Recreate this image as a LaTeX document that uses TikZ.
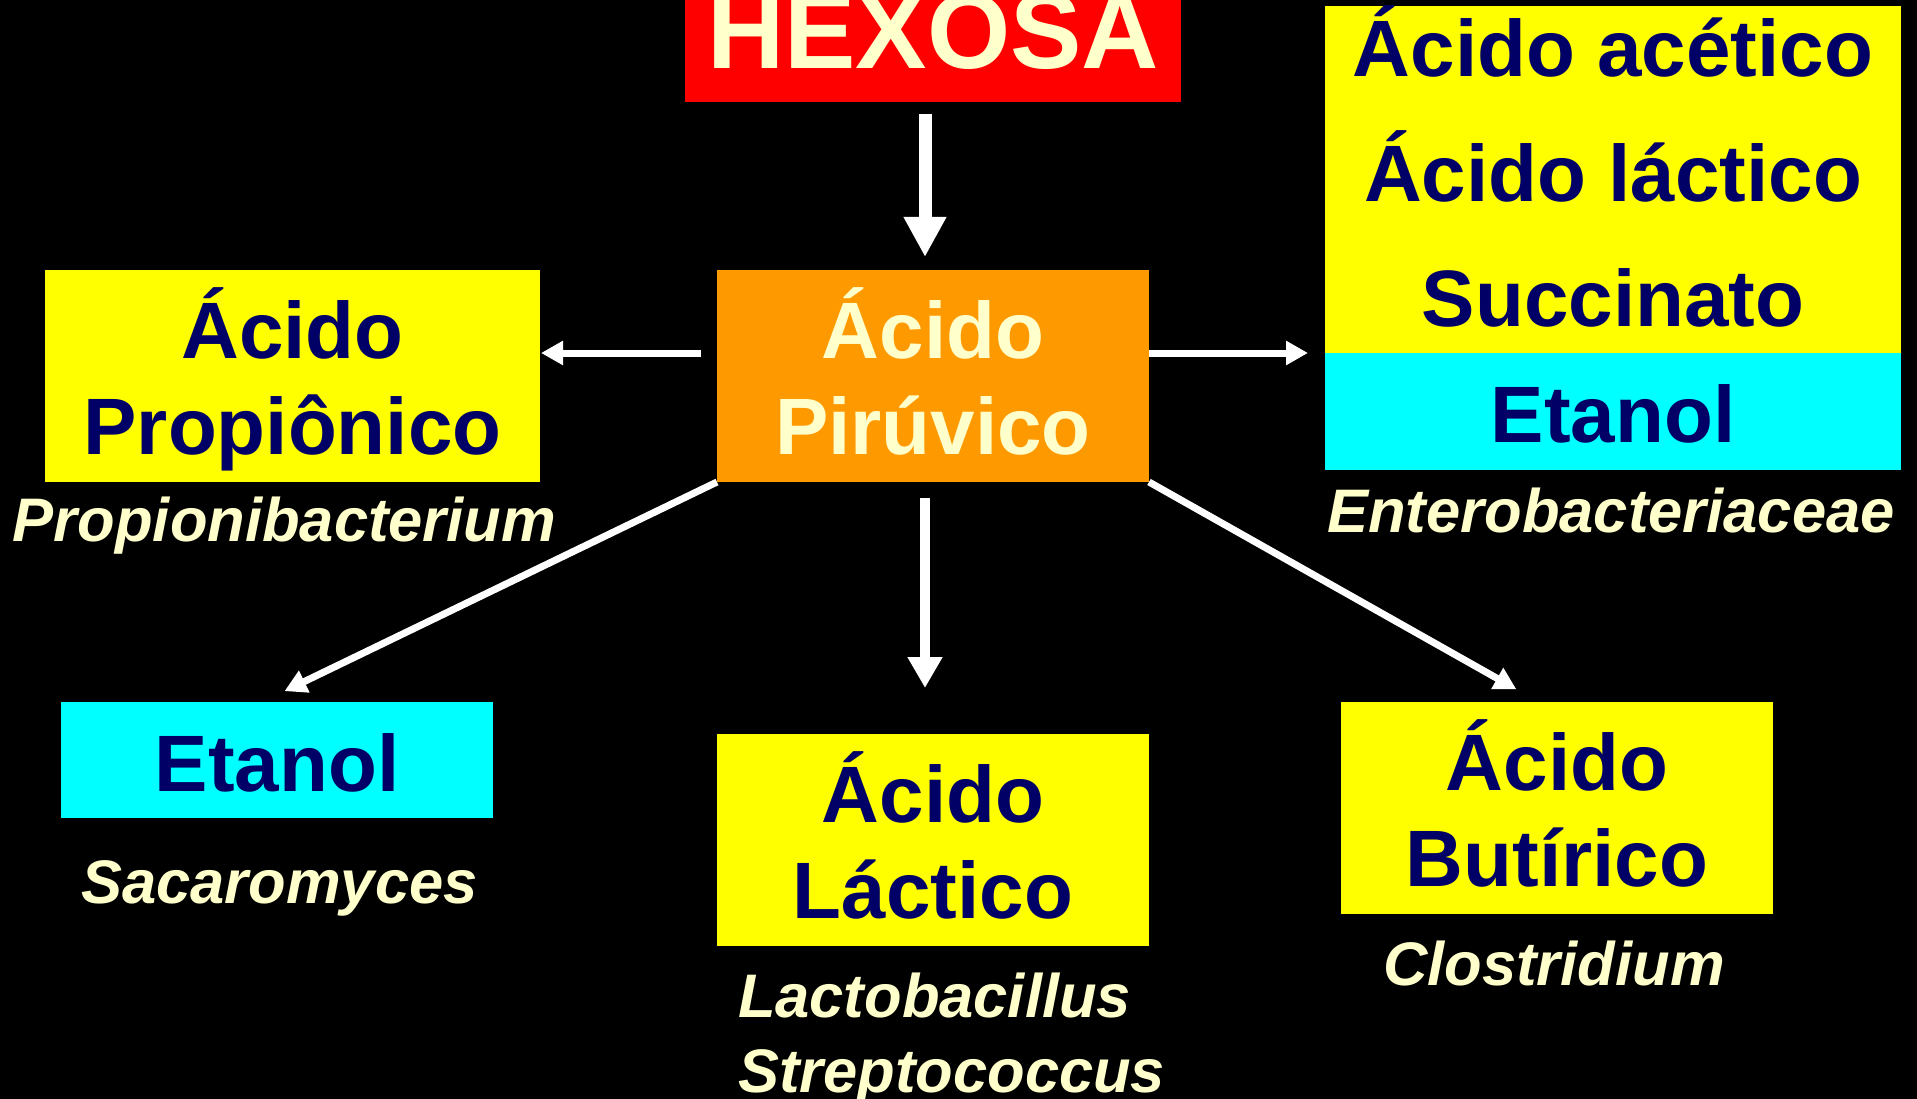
\documentclass[tikz,border=0pt]{standalone}
\usepackage{fontspec}
\setmainfont{Liberation Sans}
\usetikzlibrary{arrows.meta}
\definecolor{navy}{HTML}{000066}
\definecolor{cream}{HTML}{FFFFCC}
\definecolor{boxyellow}{HTML}{FFFF00}
\definecolor{boxcyan}{HTML}{00FFFF}
\definecolor{boxorange}{HTML}{FF9900}
\definecolor{boxred}{HTML}{FF0000}
% strut: #1 height above baseline, #2 depth below baseline
\newcommand\lnstrut[2]{\rule[-#2pt]{0pt}{\dimexpr #1pt + #2pt\relax}}
\begin{document}
\begin{tikzpicture}[x=1pt,y=-1pt,
  box/.style={rectangle, inner sep=0pt, outer sep=0pt, align=center,
    minimum width=432pt, minimum height=212pt, text=navy,
    font=\fontsize{80}{96}\selectfont\bfseries},
  species/.style={inner sep=0pt, outer sep=0pt, anchor=base, text=cream,
    font=\fontsize{61.5}{72}\selectfont\bfseries\itshape},
  bigarr/.style={draw=white, line width=13pt, -{Triangle[width=40pt,length=40pt]}, fill=white},
  midarr/.style={draw=white, line width=10.5pt, -{Triangle[width=33pt,length=31pt]}, fill=white},
  thinarr/.style={draw=white, line width=7pt, -{Triangle[width=23pt,length=22pt]}, fill=white}
]
\fill[black] (0,0) rectangle (1917,1099);
\useasboundingbox (0,0) rectangle (1917,1099);

% boxes
\node[rectangle, inner sep=0pt, outer sep=0pt, fill=boxred, text=cream,
  minimum width=496pt, minimum height=102pt, text height=40pt, text depth=4pt,
  font=\fontsize{107}{120}\selectfont\bfseries] (hex) at (933,51) {HEXOSA};
\node[box, fill=boxorange, text=cream] (pir) at (933,376)
  {\lnstrut{77}{17}Ácido\\\lnstrut{77}{17}Pirúvico};
\node[box, fill=boxyellow, minimum width=495pt] (prop) at (292.5,376)
  {\lnstrut{77}{17}Ácido\\\lnstrut{77}{17}Propiônico};
\node[box, fill=boxyellow, minimum width=576pt, minimum height=345pt,
  font=\fontsize{80}{125}\selectfont\bfseries] (prod) at (1613,179.5)
  {\lnstrut{70}{26}Ácido acético\\\lnstrut{70}{26}Ácido láctico\\\lnstrut{70}{26}Succinato};
\node[box, fill=boxcyan, minimum width=576pt, minimum height=117pt] (etr) at (1613,411.5)
  {\lnstrut{77}{16}Etanol};
\node[box, fill=boxcyan, minimum height=116pt] (etl) at (277,760)
  {\lnstrut{77}{15}Etanol};
\node[box, fill=boxyellow] (lac) at (933,840)
  {\lnstrut{77}{17}Ácido\\\lnstrut{77}{17}Láctico};
\node[box, fill=boxyellow] (but) at (1557,808)
  {\lnstrut{77}{17}Ácido\\\lnstrut{77}{17}Butírico};

% species
\node[species] (sprop) at (284.5,541) {Propionibacterium};
\node[species] (sent) at (1611,532) {Enterobacteriaceae};
\node[species] (ssac) at (279.5,903) {Sacaromyces};
\node[species] (sclo) at (1554,985) {Clostridium};
\node[species, anchor=base west] (slac) at (738,1017) {Lactobacillus};
\node[species, anchor=base west] (sstr) at (738,1092) {Streptococcus};

% connectors
\draw[bigarr, shorten <=12pt, shorten >=13pt] ([xshift=-8pt]hex.south) -- ([xshift=-8pt]pir.north);
\draw[thinarr, shorten <=16pt, shorten >=1pt] (pir.west |- etr.north west) -- (prop.east |- etr.north west);
\draw[thinarr, shorten >=17pt] (pir.east |- etr.north west) -- (etr.north west);
\draw[thinarr, shorten >=25pt] (pir.south west) -- ([xshift=-15pt]etl.north);
\draw[thinarr, shorten >=26pt] (pir.south east) -- ([xshift=-18pt]but.north);
\draw[midarr, shorten <=16pt, shorten >=46pt] ([xshift=-8pt]pir.south) -- ([xshift=-8pt]lac.north);
\end{tikzpicture}
\end{document}
